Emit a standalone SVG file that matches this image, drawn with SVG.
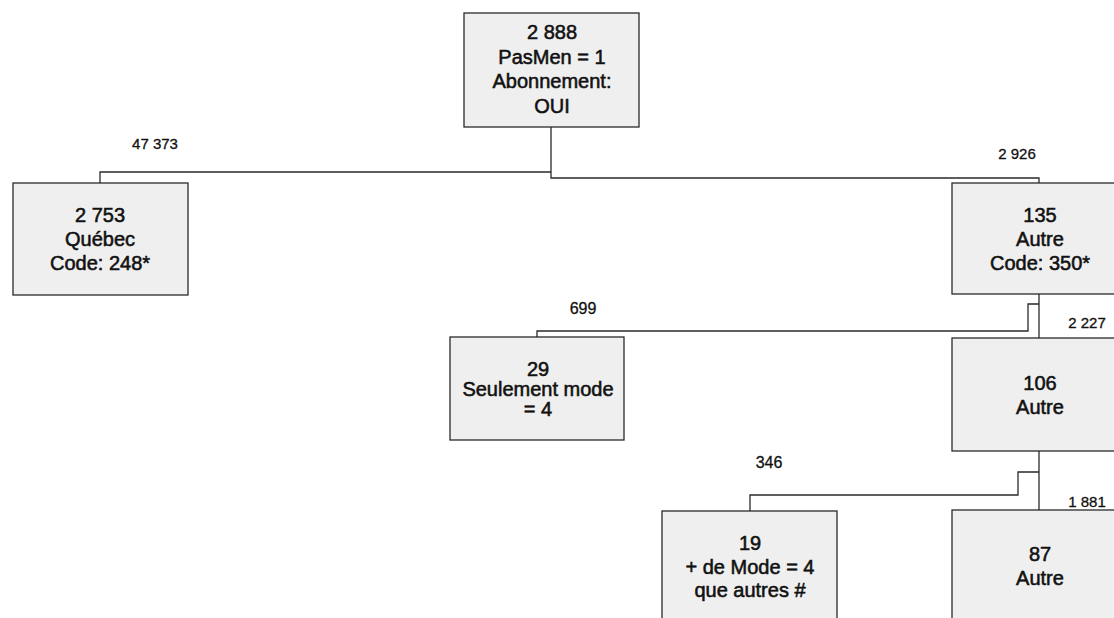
<svg xmlns="http://www.w3.org/2000/svg" width="1114" height="618" viewBox="0 0 1114 618">
<style>
.box{fill:#efefef;stroke:#2a2a2a;stroke-width:1.3}
.t{font-family:"Liberation Sans",Arial,sans-serif;font-size:20px;fill:#111;stroke:#111;stroke-width:0.55;text-anchor:middle}
.lbl{font-family:"Liberation Sans",Arial,sans-serif;font-size:15px;fill:#111;stroke:#111;stroke-width:0.3;text-anchor:middle}
.c{fill:none;stroke:#2a2a2a;stroke-width:1.3}
</style>
<rect width="1114" height="618" fill="#ffffff"/>
<g id="connectors">
<path class="c" d="M100 183 V172 H551"/>
<path class="c" d="M551 127 V178 H1039 V183"/>
<path class="c" d="M1039 294 V338"/>
<path class="c" d="M1039 304 H1028 V331 H537 V337"/>
<path class="c" d="M1039 451 V510"/>
<path class="c" d="M1039 472 H1018 V495 H750 V511"/>
</g>
<g id="labels">
<text class="lbl" x="155" y="149">47 373</text>
<text class="lbl" x="1017" y="159">2 926</text>
<text class="lbl" x="583" y="314" style="font-size:16px">699</text>
<text class="lbl" x="1087" y="328">2 227</text>
<text class="lbl" x="769" y="468" style="font-size:16px">346</text>
<text class="lbl" x="1087" y="507">1 881</text>
</g>
<g id="n_root">
<rect class="box" x="464" y="13" width="175" height="114"/>
<text class="t" x="552" y="39">2 888</text>
<text class="t" x="552" y="63.5">PasMen = 1</text>
<text class="t" x="552" y="88">Abonnement:</text>
<text class="t" x="552" y="112.5">OUI</text>
</g>
<g id="n_quebec">
<rect class="box" x="13" y="183" width="175" height="112"/>
<text class="t" x="100" y="222">2 753</text>
<text class="t" x="100" y="246">Québec</text>
<text class="t" x="100" y="270">Code: 248*</text>
</g>
<g id="n_135">
<rect class="box" x="952" y="183" width="175" height="111"/>
<text class="t" x="1040" y="222">135</text>
<text class="t" x="1040" y="246">Autre</text>
<text class="t" x="1040" y="270">Code: 350*</text>
</g>
<g id="n_29">
<rect class="box" x="450" y="337" width="174" height="103"/>
<text class="t" x="538" y="376">29</text>
<text class="t" x="538" y="396">Seulement mode</text>
<text class="t" x="538" y="416">= 4</text>
</g>
<g id="n_106">
<rect class="box" x="952" y="338" width="175" height="113"/>
<text class="t" x="1040" y="390">106</text>
<text class="t" x="1040" y="414">Autre</text>
</g>
<g id="n_19">
<rect class="box" x="662" y="511" width="175" height="120"/>
<text class="t" x="750" y="550">19</text>
<text class="t" x="750" y="574">+ de Mode = 4</text>
<text class="t" x="750" y="597">que autres #</text>
</g>
<g id="n_87">
<rect class="box" x="952" y="510" width="175" height="120"/>
<text class="t" x="1040" y="561">87</text>
<text class="t" x="1040" y="585">Autre</text>
</g>
</svg>
